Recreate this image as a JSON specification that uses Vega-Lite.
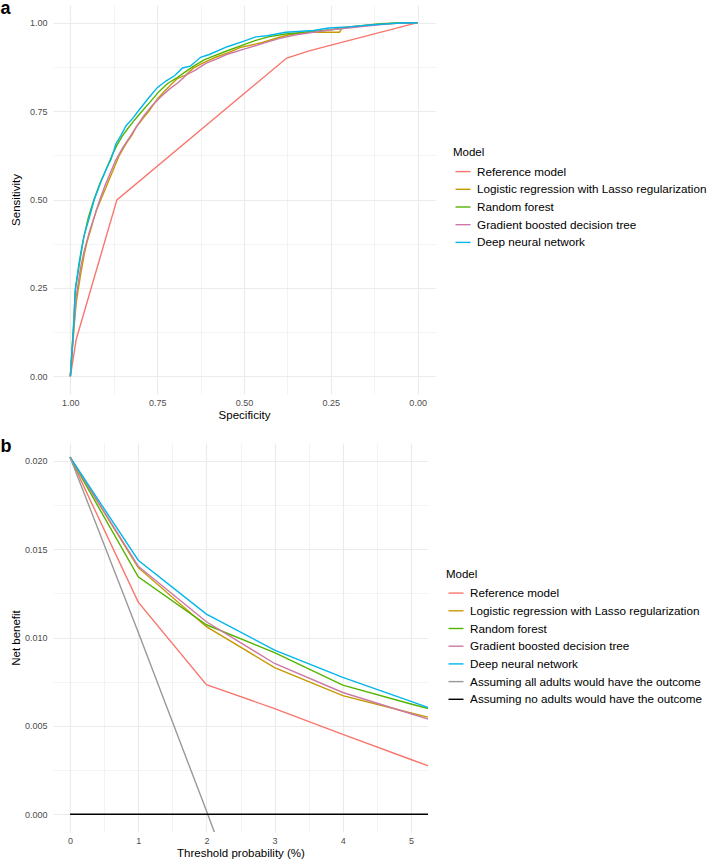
{
  "$schema": "https://vega.github.io/schema/vega-lite/v6.json",
  "padding": 0,
  "spacing": 17,
  "config": {
    "font": "Liberation Sans",
    "view": {"stroke": null},
    "axis": {
      "domain": false,
      "ticks": false,
      "labelColor": "#4D4D4D",
      "labelFontSize": 9,
      "labelFlush": false,
      "labelOverlap": false,
      "titleFontSize": 11.5,
      "titleFontWeight": "normal",
      "titleColor": "#000000",
      "gridColor": "#EBEBEB"
    },
    "axisX": {"labelPadding": 4, "titlePadding": 2.5},
    "axisY": {"labelPadding": 6, "titlePadding": 5.5, "minExtent": 26, "maxExtent": 26},
    "legend": {
      "orient": "none",
      "titleFontSize": 11.5,
      "titleFontWeight": "normal",
      "titleColor": "#000000",
      "labelFontSize": 11.7,
      "labelColor": "#000000",
      "labelLimit": 0,
      "symbolType": "stroke",
      "symbolSize": 225,
      "symbolStrokeWidth": 1.4,
      "symbolOffset": 1.5,
      "labelOffset": 5.6,
      "rowPadding": 1.7,
      "titlePadding": 4.6
    },
    "title": {"fontSize": 18, "fontWeight": "bold", "color": "#000000", "anchor": "start", "frame": "bounds", "baseline": "alphabetic", "offset": -13.3, "dx": -10}
  },
  "resolve": {"scale": {"color": "independent"}, "legend": {"color": "independent"}},
  "datasets": {
    "roc": [
      {"model": "Reference model", "specificity": 1.0, "sensitivity": 0.0},
      {"model": "Reference model", "specificity": 0.983, "sensitivity": 0.105},
      {"model": "Reference model", "specificity": 0.866, "sensitivity": 0.499},
      {"model": "Reference model", "specificity": 0.377, "sensitivity": 0.9},
      {"model": "Reference model", "specificity": 0.31, "sensitivity": 0.921},
      {"model": "Reference model", "specificity": 0.0, "sensitivity": 1.0},

      {"model": "Logistic regression with Lasso regularization", "specificity": 1.0, "sensitivity": 0.0},
      {"model": "Logistic regression with Lasso regularization", "specificity": 0.99, "sensitivity": 0.13},
      {"model": "Logistic regression with Lasso regularization", "specificity": 0.983, "sensitivity": 0.21},
      {"model": "Logistic regression with Lasso regularization", "specificity": 0.97, "sensitivity": 0.29},
      {"model": "Logistic regression with Lasso regularization", "specificity": 0.96, "sensitivity": 0.345},
      {"model": "Logistic regression with Lasso regularization", "specificity": 0.952, "sensitivity": 0.38},
      {"model": "Logistic regression with Lasso regularization", "specificity": 0.94, "sensitivity": 0.42},
      {"model": "Logistic regression with Lasso regularization", "specificity": 0.925, "sensitivity": 0.47},
      {"model": "Logistic regression with Lasso regularization", "specificity": 0.912, "sensitivity": 0.5},
      {"model": "Logistic regression with Lasso regularization", "specificity": 0.895, "sensitivity": 0.54},
      {"model": "Logistic regression with Lasso regularization", "specificity": 0.874, "sensitivity": 0.59},
      {"model": "Logistic regression with Lasso regularization", "specificity": 0.859, "sensitivity": 0.625},
      {"model": "Logistic regression with Lasso regularization", "specificity": 0.84, "sensitivity": 0.657},
      {"model": "Logistic regression with Lasso regularization", "specificity": 0.821, "sensitivity": 0.685},
      {"model": "Logistic regression with Lasso regularization", "specificity": 0.811, "sensitivity": 0.704},
      {"model": "Logistic regression with Lasso regularization", "specificity": 0.79, "sensitivity": 0.73},
      {"model": "Logistic regression with Lasso regularization", "specificity": 0.773, "sensitivity": 0.751},
      {"model": "Logistic regression with Lasso regularization", "specificity": 0.749, "sensitivity": 0.785},
      {"model": "Logistic regression with Lasso regularization", "specificity": 0.72, "sensitivity": 0.815},
      {"model": "Logistic regression with Lasso regularization", "specificity": 0.692, "sensitivity": 0.842},
      {"model": "Logistic regression with Lasso regularization", "specificity": 0.668, "sensitivity": 0.852},
      {"model": "Logistic regression with Lasso regularization", "specificity": 0.645, "sensitivity": 0.872},
      {"model": "Logistic regression with Lasso regularization", "specificity": 0.61, "sensitivity": 0.89},
      {"model": "Logistic regression with Lasso regularization", "specificity": 0.58, "sensitivity": 0.903},
      {"model": "Logistic regression with Lasso regularization", "specificity": 0.543, "sensitivity": 0.916},
      {"model": "Logistic regression with Lasso regularization", "specificity": 0.51, "sensitivity": 0.93},
      {"model": "Logistic regression with Lasso regularization", "specificity": 0.447, "sensitivity": 0.944},
      {"model": "Logistic regression with Lasso regularization", "specificity": 0.4, "sensitivity": 0.958},
      {"model": "Logistic regression with Lasso regularization", "specificity": 0.37, "sensitivity": 0.966},
      {"model": "Logistic regression with Lasso regularization", "specificity": 0.32, "sensitivity": 0.973},
      {"model": "Logistic regression with Lasso regularization", "specificity": 0.225, "sensitivity": 0.973},
      {"model": "Logistic regression with Lasso regularization", "specificity": 0.217, "sensitivity": 0.986},
      {"model": "Logistic regression with Lasso regularization", "specificity": 0.1, "sensitivity": 0.998},
      {"model": "Logistic regression with Lasso regularization", "specificity": 0.0, "sensitivity": 1.0},

      {"model": "Random forest", "specificity": 1.0, "sensitivity": 0.0},
      {"model": "Random forest", "specificity": 0.99, "sensitivity": 0.16},
      {"model": "Random forest", "specificity": 0.985, "sensitivity": 0.25},
      {"model": "Random forest", "specificity": 0.972, "sensitivity": 0.33},
      {"model": "Random forest", "specificity": 0.962, "sensitivity": 0.39},
      {"model": "Random forest", "specificity": 0.948, "sensitivity": 0.45},
      {"model": "Random forest", "specificity": 0.932, "sensitivity": 0.5},
      {"model": "Random forest", "specificity": 0.915, "sensitivity": 0.545},
      {"model": "Random forest", "specificity": 0.897, "sensitivity": 0.585},
      {"model": "Random forest", "specificity": 0.88, "sensitivity": 0.625},
      {"model": "Random forest", "specificity": 0.865, "sensitivity": 0.655},
      {"model": "Random forest", "specificity": 0.85, "sensitivity": 0.68},
      {"model": "Random forest", "specificity": 0.835, "sensitivity": 0.7},
      {"model": "Random forest", "specificity": 0.815, "sensitivity": 0.725},
      {"model": "Random forest", "specificity": 0.795, "sensitivity": 0.748},
      {"model": "Random forest", "specificity": 0.77, "sensitivity": 0.776},
      {"model": "Random forest", "specificity": 0.745, "sensitivity": 0.805},
      {"model": "Random forest", "specificity": 0.72, "sensitivity": 0.828},
      {"model": "Random forest", "specificity": 0.695, "sensitivity": 0.843},
      {"model": "Random forest", "specificity": 0.67, "sensitivity": 0.86},
      {"model": "Random forest", "specificity": 0.645, "sensitivity": 0.877},
      {"model": "Random forest", "specificity": 0.615, "sensitivity": 0.895},
      {"model": "Random forest", "specificity": 0.59, "sensitivity": 0.905},
      {"model": "Random forest", "specificity": 0.55, "sensitivity": 0.92},
      {"model": "Random forest", "specificity": 0.5, "sensitivity": 0.938},
      {"model": "Random forest", "specificity": 0.466, "sensitivity": 0.95},
      {"model": "Random forest", "specificity": 0.43, "sensitivity": 0.96},
      {"model": "Random forest", "specificity": 0.38, "sensitivity": 0.968},
      {"model": "Random forest", "specificity": 0.3, "sensitivity": 0.975},
      {"model": "Random forest", "specificity": 0.25, "sensitivity": 0.98},
      {"model": "Random forest", "specificity": 0.2, "sensitivity": 0.987},
      {"model": "Random forest", "specificity": 0.12, "sensitivity": 0.995},
      {"model": "Random forest", "specificity": 0.06, "sensitivity": 0.999},
      {"model": "Random forest", "specificity": 0.0, "sensitivity": 1.0},

      {"model": "Gradient boosted decision tree", "specificity": 1.0, "sensitivity": 0.0},
      {"model": "Gradient boosted decision tree", "specificity": 0.99, "sensitivity": 0.14},
      {"model": "Gradient boosted decision tree", "specificity": 0.984, "sensitivity": 0.22},
      {"model": "Gradient boosted decision tree", "specificity": 0.97, "sensitivity": 0.31},
      {"model": "Gradient boosted decision tree", "specificity": 0.96, "sensitivity": 0.355},
      {"model": "Gradient boosted decision tree", "specificity": 0.945, "sensitivity": 0.41},
      {"model": "Gradient boosted decision tree", "specificity": 0.928, "sensitivity": 0.46},
      {"model": "Gradient boosted decision tree", "specificity": 0.915, "sensitivity": 0.5},
      {"model": "Gradient boosted decision tree", "specificity": 0.9, "sensitivity": 0.54},
      {"model": "Gradient boosted decision tree", "specificity": 0.885, "sensitivity": 0.575},
      {"model": "Gradient boosted decision tree", "specificity": 0.87, "sensitivity": 0.61},
      {"model": "Gradient boosted decision tree", "specificity": 0.85, "sensitivity": 0.645},
      {"model": "Gradient boosted decision tree", "specificity": 0.83, "sensitivity": 0.675},
      {"model": "Gradient boosted decision tree", "specificity": 0.81, "sensitivity": 0.705},
      {"model": "Gradient boosted decision tree", "specificity": 0.79, "sensitivity": 0.735},
      {"model": "Gradient boosted decision tree", "specificity": 0.765, "sensitivity": 0.765},
      {"model": "Gradient boosted decision tree", "specificity": 0.74, "sensitivity": 0.79},
      {"model": "Gradient boosted decision tree", "specificity": 0.715, "sensitivity": 0.812},
      {"model": "Gradient boosted decision tree", "specificity": 0.69, "sensitivity": 0.83},
      {"model": "Gradient boosted decision tree", "specificity": 0.665, "sensitivity": 0.853},
      {"model": "Gradient boosted decision tree", "specificity": 0.64, "sensitivity": 0.866},
      {"model": "Gradient boosted decision tree", "specificity": 0.61, "sensitivity": 0.885},
      {"model": "Gradient boosted decision tree", "specificity": 0.58, "sensitivity": 0.897},
      {"model": "Gradient boosted decision tree", "specificity": 0.55, "sensitivity": 0.91},
      {"model": "Gradient boosted decision tree", "specificity": 0.5, "sensitivity": 0.925},
      {"model": "Gradient boosted decision tree", "specificity": 0.45, "sensitivity": 0.94},
      {"model": "Gradient boosted decision tree", "specificity": 0.4, "sensitivity": 0.955},
      {"model": "Gradient boosted decision tree", "specificity": 0.35, "sensitivity": 0.966},
      {"model": "Gradient boosted decision tree", "specificity": 0.3, "sensitivity": 0.973},
      {"model": "Gradient boosted decision tree", "specificity": 0.25, "sensitivity": 0.98},
      {"model": "Gradient boosted decision tree", "specificity": 0.2, "sensitivity": 0.985},
      {"model": "Gradient boosted decision tree", "specificity": 0.12, "sensitivity": 0.993},
      {"model": "Gradient boosted decision tree", "specificity": 0.06, "sensitivity": 0.998},
      {"model": "Gradient boosted decision tree", "specificity": 0.0, "sensitivity": 1.0},

      {"model": "Deep neural network", "specificity": 1.0, "sensitivity": 0.0},
      {"model": "Deep neural network", "specificity": 0.99, "sensitivity": 0.15},
      {"model": "Deep neural network", "specificity": 0.9865, "sensitivity": 0.24},
      {"model": "Deep neural network", "specificity": 0.975, "sensitivity": 0.32},
      {"model": "Deep neural network", "specificity": 0.969, "sensitivity": 0.355},
      {"model": "Deep neural network", "specificity": 0.96, "sensitivity": 0.4},
      {"model": "Deep neural network", "specificity": 0.945, "sensitivity": 0.45},
      {"model": "Deep neural network", "specificity": 0.931, "sensitivity": 0.5},
      {"model": "Deep neural network", "specificity": 0.912, "sensitivity": 0.55},
      {"model": "Deep neural network", "specificity": 0.895, "sensitivity": 0.59},
      {"model": "Deep neural network", "specificity": 0.883, "sensitivity": 0.613},
      {"model": "Deep neural network", "specificity": 0.875, "sensitivity": 0.638},
      {"model": "Deep neural network", "specificity": 0.869, "sensitivity": 0.657},
      {"model": "Deep neural network", "specificity": 0.855, "sensitivity": 0.68},
      {"model": "Deep neural network", "specificity": 0.84, "sensitivity": 0.708},
      {"model": "Deep neural network", "specificity": 0.82, "sensitivity": 0.73},
      {"model": "Deep neural network", "specificity": 0.8, "sensitivity": 0.756},
      {"model": "Deep neural network", "specificity": 0.773, "sensitivity": 0.789},
      {"model": "Deep neural network", "specificity": 0.749, "sensitivity": 0.817},
      {"model": "Deep neural network", "specificity": 0.725, "sensitivity": 0.835},
      {"model": "Deep neural network", "specificity": 0.7, "sensitivity": 0.85},
      {"model": "Deep neural network", "specificity": 0.677, "sensitivity": 0.872},
      {"model": "Deep neural network", "specificity": 0.655, "sensitivity": 0.877},
      {"model": "Deep neural network", "specificity": 0.625, "sensitivity": 0.902},
      {"model": "Deep neural network", "specificity": 0.6, "sensitivity": 0.91},
      {"model": "Deep neural network", "specificity": 0.548, "sensitivity": 0.932},
      {"model": "Deep neural network", "specificity": 0.5, "sensitivity": 0.948},
      {"model": "Deep neural network", "specificity": 0.466, "sensitivity": 0.96},
      {"model": "Deep neural network", "specificity": 0.433, "sensitivity": 0.963},
      {"model": "Deep neural network", "specificity": 0.38, "sensitivity": 0.973},
      {"model": "Deep neural network", "specificity": 0.3, "sensitivity": 0.978},
      {"model": "Deep neural network", "specificity": 0.256, "sensitivity": 0.985},
      {"model": "Deep neural network", "specificity": 0.2, "sensitivity": 0.988},
      {"model": "Deep neural network", "specificity": 0.131, "sensitivity": 0.994},
      {"model": "Deep neural network", "specificity": 0.05, "sensitivity": 0.999},
      {"model": "Deep neural network", "specificity": 0.0, "sensitivity": 1.0}
    ],
    "dca": [
      {"model": "Reference model", "threshold": 0, "net_benefit": 0.0202},
      {"model": "Reference model", "threshold": 1, "net_benefit": 0.0120},
      {"model": "Reference model", "threshold": 2, "net_benefit": 0.00733},
      {"model": "Reference model", "threshold": 3, "net_benefit": 0.00598},
      {"model": "Reference model", "threshold": 4, "net_benefit": 0.00452},
      {"model": "Reference model", "threshold": 5, "net_benefit": 0.0031},
      {"model": "Reference model", "threshold": 6, "net_benefit": 0.0017},
      {"model": "Logistic regression with Lasso regularization", "threshold": 0, "net_benefit": 0.0202},
      {"model": "Logistic regression with Lasso regularization", "threshold": 1, "net_benefit": 0.01395},
      {"model": "Logistic regression with Lasso regularization", "threshold": 2, "net_benefit": 0.01061},
      {"model": "Logistic regression with Lasso regularization", "threshold": 3, "net_benefit": 0.0083},
      {"model": "Logistic regression with Lasso regularization", "threshold": 4, "net_benefit": 0.00671},
      {"model": "Logistic regression with Lasso regularization", "threshold": 5, "net_benefit": 0.00573},
      {"model": "Logistic regression with Lasso regularization", "threshold": 6, "net_benefit": 0.0048},
      {"model": "Random forest", "threshold": 0, "net_benefit": 0.0202},
      {"model": "Random forest", "threshold": 1, "net_benefit": 0.01343},
      {"model": "Random forest", "threshold": 2, "net_benefit": 0.01072},
      {"model": "Random forest", "threshold": 3, "net_benefit": 0.00915},
      {"model": "Random forest", "threshold": 4, "net_benefit": 0.00731},
      {"model": "Random forest", "threshold": 5, "net_benefit": 0.00624},
      {"model": "Random forest", "threshold": 6, "net_benefit": 0.0052},
      {"model": "Gradient boosted decision tree", "threshold": 0, "net_benefit": 0.0202},
      {"model": "Gradient boosted decision tree", "threshold": 1, "net_benefit": 0.01403},
      {"model": "Gradient boosted decision tree", "threshold": 2, "net_benefit": 0.01089},
      {"model": "Gradient boosted decision tree", "threshold": 3, "net_benefit": 0.00853},
      {"model": "Gradient boosted decision tree", "threshold": 4, "net_benefit": 0.00689},
      {"model": "Gradient boosted decision tree", "threshold": 5, "net_benefit": 0.00569},
      {"model": "Gradient boosted decision tree", "threshold": 6, "net_benefit": 0.0045},
      {"model": "Deep neural network", "threshold": 0, "net_benefit": 0.0202},
      {"model": "Deep neural network", "threshold": 1, "net_benefit": 0.01437},
      {"model": "Deep neural network", "threshold": 2, "net_benefit": 0.01132},
      {"model": "Deep neural network", "threshold": 3, "net_benefit": 0.00929},
      {"model": "Deep neural network", "threshold": 4, "net_benefit": 0.00774},
      {"model": "Deep neural network", "threshold": 5, "net_benefit": 0.00639},
      {"model": "Deep neural network", "threshold": 6, "net_benefit": 0.0050},
      {"model": "Assuming all adults would have the outcome", "threshold": 0, "net_benefit": 0.0202},
      {"model": "Assuming all adults would have the outcome", "threshold": 1, "net_benefit": 0.0103},
      {"model": "Assuming all adults would have the outcome", "threshold": 2, "net_benefit": 0.0002},
      {"model": "Assuming all adults would have the outcome", "threshold": 3, "net_benefit": -0.0101},
      {"model": "Assuming no adults would have the outcome", "threshold": 0, "net_benefit": 0},
      {"model": "Assuming no adults would have the outcome", "threshold": 2, "net_benefit": 0},
      {"model": "Assuming no adults would have the outcome", "threshold": 4, "net_benefit": 0},
      {"model": "Assuming no adults would have the outcome", "threshold": 6, "net_benefit": 0}
    ]
  },
  "vconcat": [
    {
      "width": 382,
      "height": 389,
      "title": {"text": "a"},
      "data": {"name": "roc"},
      "mark": {"type": "line", "strokeWidth": 1.4, "clip": true},
      "encoding": {
        "x": {
          "field": "specificity", "type": "quantitative", "sort": null,
          "scale": {"domain": [-0.05, 1.05], "reverse": true, "nice": false, "zero": false},
          "axis": {
            "title": "Specificity",
            "values": [0, 0.125, 0.25, 0.375, 0.5, 0.625, 0.75, 0.875, 1],
            "labelExpr": "(datum.value*4) % 1 != 0 ? '' : format(datum.value, '.2f')",
            "gridWidth": {"condition": {"test": "(datum.value*4) % 1 != 0", "value": 0.6}, "value": 1.1}
          }
        },
        "y": {
          "field": "sensitivity", "type": "quantitative",
          "scale": {"domain": [-0.05, 1.05], "nice": false, "zero": false},
          "axis": {
            "title": "Sensitivity",
            "values": [0, 0.125, 0.25, 0.375, 0.5, 0.625, 0.75, 0.875, 1],
            "labelExpr": "(datum.value*4) % 1 != 0 ? '' : format(datum.value, '.2f')",
            "gridWidth": {"condition": {"test": "(datum.value*4) % 1 != 0", "value": 0.6}, "value": 1.1}
          }
        },
        "color": {
          "field": "model", "type": "nominal",
          "scale": {
            "domain": ["Reference model", "Logistic regression with Lasso regularization", "Random forest", "Gradient boosted decision tree", "Deep neural network"],
            "range": ["#F8766D", "#C49A00", "#53B400", "#CC79A7", "#00B6EB"]
          },
          "legend": {"title": "Model", "legendX": 400, "legendY": 142}
        }
      }
    },
    {
      "width": 375,
      "height": 389,
      "title": {"text": "b"},
      "data": {"name": "dca"},
      "mark": {"type": "line", "strokeWidth": 1.4, "clip": true},
      "encoding": {
        "x": {
          "field": "threshold", "type": "quantitative",
          "scale": {"domain": [-0.25, 5.25], "nice": false, "zero": false},
          "axis": {
            "title": "Threshold probability (%)",
            "values": [0, 0.5, 1, 1.5, 2, 2.5, 3, 3.5, 4, 4.5, 5],
            "labelExpr": "datum.value % 1 != 0 ? '' : format(datum.value, 'd')",
            "gridWidth": {"condition": {"test": "datum.value % 1 != 0", "value": 0.6}, "value": 1.1}
          }
        },
        "y": {
          "field": "net_benefit", "type": "quantitative",
          "scale": {"domain": [-0.001, 0.021], "nice": false, "zero": false},
          "axis": {
            "title": "Net benefit",
            "values": [0, 0.0025, 0.005, 0.0075, 0.01, 0.0125, 0.015, 0.0175, 0.02],
            "labelExpr": "round(datum.value*400) % 2 == 1 ? '' : format(datum.value, '.3f')",
            "gridWidth": {"condition": {"test": "round(datum.value*400) % 2 == 1", "value": 0.6}, "value": 1.1}
          }
        },
        "color": {
          "field": "model", "type": "nominal",
          "scale": {
            "domain": ["Reference model", "Logistic regression with Lasso regularization", "Random forest", "Gradient boosted decision tree", "Deep neural network", "Assuming all adults would have the outcome", "Assuming no adults would have the outcome"],
            "range": ["#F8766D", "#C49A00", "#53B400", "#CC79A7", "#00B6EB", "#999999", "#000000"]
          },
          "legend": {"title": "Model", "legendX": 393, "legendY": 125.5}
        }
      }
    }
  ]
}
